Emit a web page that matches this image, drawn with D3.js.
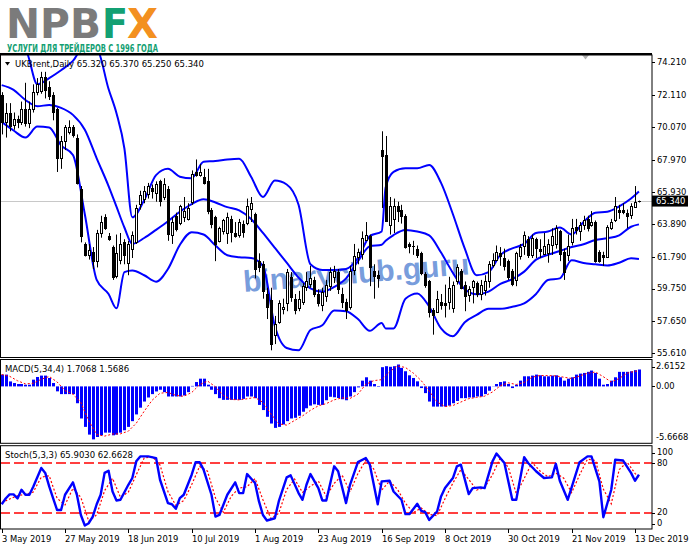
<!DOCTYPE html>
<html>
<head>
<meta charset="utf-8">
<script src="https://cdnjs.cloudflare.com/ajax/libs/d3/7.8.5/d3.min.js"></script>
<style>
  body { margin: 0; background: #fff; }
  svg { display: block; }
  text { font-family: "DejaVu Sans", sans-serif; }
</style>
</head>
<body>
<div id="graphic"></div>
<script>
const width = 691;
const height = 549;

// UKBrent daily candles, 3 May 2019 .. 16 Dec 2019 (bar index 0..161)
const opens = [72.1,70.4,71.0,70.2,70.6,70.4,71.2,70.3,71.2,72.3,
  72.4,73.3,72.6,72.1,71.2,68.1,69.2,69.8,70.1,69.4,
  66.1,62.6,61.9,62.1,61.5,63.3,64.3,63.1,62.4,60.5,
  61.6,62.7,61.4,62.3,62.7,65.1,65.5,65.8,66.2,65.8,
  66.6,65.6,66.1,63.2,64.4,63.9,64.3,64.2,65.3,67.2,
  67.0,66.9,66.6,64.8,64.3,62.8,63.4,63.3,64.2,63.3,
  63.2,63.9,63.9,64.8,64.5,61.5,61.3,59.4,59.0,56.8,
  57.6,58.5,58.8,60.5,59.1,58.5,58.9,59.8,60.0,60.3,
  59.4,58.7,59.3,59.9,60.5,60.8,59.4,58.9,58.6,60.9,
  61.8,62.0,62.9,63.1,60.9,60.6,68.6,68.3,63.8,64.2,
  65.0,64.8,64.4,62.6,62.5,62.3,62.0,60.7,60.2,58.4,
  58.3,58.9,58.8,58.9,58.5,60.2,60.9,60.0,59.3,59.8,
  60.1,59.4,59.6,60.2,61.3,61.6,62.0,61.7,61.5,60.9,
  60.3,61.8,62.5,62.9,61.9,62.9,62.3,62.0,62.0,62.5,
  62.6,63.4,62.1,61.9,62.7,63.7,63.4,63.8,64.2,63.8,
  64.0,62.1,61.9,61.8,63.6,64.1,64.8,64.8,64.6,64.4,
  65.0,65.32];
const highs = [72.3,71.6,71.6,71.0,70.8,71.7,72.9,71.7,72.8,73.2,
  73.6,73.6,73.0,72.3,71.3,69.5,70.2,70.5,70.2,69.6,
  66.3,62.7,62.6,62.4,63.5,64.4,64.5,63.3,62.5,63.2,
  63.3,62.9,62.8,63.4,65.1,66.0,66.3,66.5,66.4,66.6,
  66.7,66.8,66.3,64.3,64.6,65.1,65.6,65.2,67.3,68.0,
  67.7,67.4,67.4,64.9,64.4,63.7,64.2,64.6,64.4,64.0,
  64.2,64.1,65.5,65.6,64.6,62.0,61.5,59.8,59.8,58.0,
  59.0,59.1,61.0,60.8,59.4,59.6,60.1,60.8,61.2,60.5,
  59.7,59.8,60.3,61.1,61.2,61.0,59.8,59.1,61.2,62.6,
  62.3,63.4,64.0,63.2,61.3,60.9,69.8,69.5,65.6,65.5,
  65.3,65.1,64.5,62.7,62.8,62.5,62.1,60.8,60.3,58.5,
  59.6,59.4,60.0,60.5,60.2,61.3,61.0,60.2,59.9,60.3,
  60.2,60.3,60.6,61.5,62.0,62.5,62.4,62.3,61.6,61.0,
  62.1,62.6,63.4,63.1,63.2,63.0,62.9,63.3,62.9,63.6,
  63.8,63.5,62.3,63.2,64.2,64.2,64.0,64.4,64.4,64.7,
  64.1,62.2,62.1,63.8,64.2,65.6,65.1,65.2,64.8,65.2,
  66.3,65.37];
const lows = [69.6,69.4,69.8,69.9,70.0,70.2,70.1,70.0,71.0,72.1,
  72.2,71.9,71.8,70.5,67.2,67.4,68.6,69.6,69.4,66.4,
  62.7,61.8,61.6,61.0,61.1,63.0,63.5,62.8,60.3,60.4,
  61.3,61.3,60.6,61.7,62.6,64.8,65.2,65.5,65.5,65.3,
  65.0,65.4,62.8,62.6,63.4,63.8,64.0,64.1,65.1,66.9,
  66.9,66.4,64.5,63.6,61.5,62.7,63.2,62.6,62.7,63.0,
  63.0,63.0,63.8,64.0,60.4,60.8,59.1,57.8,55.8,56.2,
  57.5,58.1,58.3,58.9,58.1,58.3,58.7,59.6,59.8,59.2,
  58.6,58.3,58.9,59.6,60.1,59.4,58.5,57.8,58.4,60.6,
  61.3,61.6,62.8,59.9,59.1,59.8,64.9,64.0,63.2,63.3,
  64.0,63.9,62.3,62.0,61.9,61.7,60.6,59.8,57.9,56.8,
  58.2,58.4,57.9,58.4,58.2,60.0,59.7,58.3,58.9,58.8,
  59.2,59.0,59.3,59.8,61.1,61.5,61.2,60.9,60.3,59.9,
  59.9,61.6,61.9,61.7,61.7,61.7,61.7,61.9,61.4,61.9,
  62.3,61.5,60.3,61.5,62.5,63.2,62.8,63.5,63.4,63.7,
  61.4,61.4,61.2,61.7,63.5,64.0,64.2,64.5,63.6,64.2,
  64.9,65.25];
const closes = [70.4,71.0,70.2,70.6,70.4,71.2,70.3,71.2,72.3,72.8,
  73.3,72.5,72.0,71.0,68.1,69.2,70.1,70.1,69.6,66.5,
  63.1,61.9,62.2,61.5,63.3,64.0,63.6,62.9,60.5,62.0,
  62.6,61.9,62.6,63.2,64.9,65.7,66.0,66.3,66.0,66.4,
  65.3,66.4,63.2,64.0,63.6,65.0,64.7,64.9,67.1,67.0,
  67.2,66.5,64.7,63.9,62.6,63.6,64.1,64.3,63.4,63.1,
  64.0,63.4,65.0,65.2,61.0,61.1,59.6,58.6,56.2,57.5,
  58.8,58.6,60.8,59.2,58.4,59.1,59.9,60.2,60.4,59.4,
  58.8,59.5,60.0,60.8,60.9,59.7,58.9,58.4,60.9,61.8,
  62.1,63.0,63.2,61.1,60.6,60.4,68.2,64.1,65.0,65.0,
  64.7,64.4,62.4,62.5,62.5,61.9,60.7,60.0,58.2,58.1,
  59.1,58.7,58.7,59.8,60.0,61.1,59.8,59.3,59.7,60.2,
  59.4,60.0,60.2,61.3,61.6,62.1,61.8,61.2,60.5,60.1,
  62.0,62.4,63.2,61.9,63.0,62.3,62.2,62.5,62.6,63.1,
  63.6,61.9,60.8,62.5,63.6,63.5,63.8,64.1,63.6,64.0,
  61.5,61.5,61.8,63.7,64.0,65.0,64.7,64.7,64.4,65.0,
  65.3,65.34];

// Bollinger bands at these bars
const bbIndex = [0,3,6,9,12,15,18,21,24,27,29,31,33,36,39,42,45,48,51,54,57,60,63,66,69,72,75,78,81,84,87,90,93,96,97,99,
  102,105,108,111,114,117,120,123,126,129,132,135,138,141,144,147,150,153,156,159,161];
const bbUpper = [75.1,75.2,75.0,72.8,73.2,73.7,74.3,75.3,75.1,72.5,70.95,68.7,64.3,65.4,67.0,67.4,66.9,66.8,67.86,67.9,68.0,68.05,
  66.9,65.6,66.65,66.4,65.1,61.3,60.94,60.94,61.0,61.7,63.1,63.4,66.2,67.2,
  67.43,67.43,67.65,66.5,64.5,62.3,60.6,60.8,61.9,62.32,62.6,63.3,63.39,63.65,63.2,64.0,64.6,64.66,65.0,65.5,65.95];
const bbMiddle = [72.75,72.45,71.8,71.4,71.48,71.3,70.85,69.9,68.07,66.3,64.98,63.65,62.6,62.98,63.5,64.05,64.66,65.15,65.45,65.25,64.95,64.75,
  64.2,63.3,62.35,61.4,60.45,59.76,59.55,59.85,60.4,61.5,62.45,62.55,62.8,63.17,
  63.49,63.39,63.15,62.05,60.75,59.7,59.38,59.55,60.05,60.35,60.83,61.6,61.9,62.15,62.4,62.58,62.85,62.96,63.15,63.7,63.85];
const bbLower = [70.4,69.85,69.4,70.1,70.05,68.9,68.29,64.5,60.3,59.4,58.49,60.8,60.9,60.6,60.19,61.0,62.53,63.35,63.2,62.5,61.88,61.75,
  61.7,61.2,57.35,55.95,55.8,57.1,57.4,58.35,58.3,57.8,57.05,57.55,57.2,57.2,
  59.1,59.44,58.6,57.2,56.7,57.6,58.06,58.45,58.45,58.58,58.8,59.4,60.3,60.4,61.55,61.38,61.3,61.22,61.4,61.68,61.64];

// MACD(5,34,4) histogram, one value per bar
const macdHist = [1.19,1.19,0.5,0.34,0.24,0.24,0.17,0.17,0.68,0.95,
  1.09,1.09,0.85,0.34,-0.5,-0.78,-0.78,-0.78,-0.78,-1.7,
  -3.24,-4.09,-4.87,-5.35,-5.11,-4.94,-4.67,-4.67,-4.94,-4.87,
  -4.67,-4.43,-4.09,-3.51,-2.83,-2.15,-1.53,-1.12,-0.78,-0.51,
  -0.34,-0.58,-1.02,-1.02,-1.02,-1.02,-0.92,-0.58,0.05,0.44,
  0.78,0.78,0.17,-0.34,-0.78,-1.19,-1.36,-1.36,-1.36,-1.36,
  -1.36,-1.26,-1.02,-1.02,-1.19,-1.87,-2.39,-3.07,-3.75,-4.19,
  -4.09,-3.85,-3.51,-3.24,-3.17,-2.96,-2.56,-2.21,-1.94,-1.81,
  -1.87,-1.87,-1.4,-1.05,-1.1,-1.17,-1.3,-1.4,-1.02,-0.58,
  -0.1,0.58,0.92,0.58,0.24,-0.05,1.94,2.04,1.98,2.04,
  2.21,1.87,1.53,1.12,0.85,0.51,-0.17,-0.68,-1.53,-2.04,
  -2.04,-2.04,-2.04,-1.94,-1.7,-1.47,-1.19,-1.19,-1.12,-1.12,
  -1.02,-1.02,-0.78,-0.44,0.02,0.24,0.44,0.51,0.24,-0.17,
  0.17,0.58,1.02,1.02,1.09,1.19,1.12,1.02,1.02,1.09,
  1.12,0.92,0.58,0.78,0.92,1.19,1.29,1.36,1.47,1.6,
  1.36,0.78,0.17,0.24,0.58,0.92,1.47,1.47,1.47,1.53,
  1.64,1.7068];
const macdSigIndex = [0,2,4,6,8,10,12,14,16,18,20,22,24,26,28,30,32,34,36,38,40,42,44,46,48,50,52,54,56,58,60,62,64,66,68,70,72,74,76,78,
  80,82,84,86,88,90,92,94,96,98,100,102,104,106,108,110,112,114,116,118,120,122,124,126,128,130,132,134,136,138,140,142,144,146,148,150,
  152,154,156,158,160,161];
const macdSignal = [1.2,1.02,0.57,0.25,0.32,0.72,1.0,0.45,-0.43,-0.78,-1.63,-3.48,-4.86,-5.02,-4.81,-4.79,-4.52,-3.72,-2.51,-1.4,
  -0.69,-0.61,-0.91,-1.0,-0.62,0.17,0.54,-0.04,-0.92,-1.32,-1.36,-1.25,-1.12,-1.62,-2.77,-3.78,-3.91,-3.44,-2.98,-2.42,
  -1.96,-1.74,-1.36,-1.16,-1.22,-0.78,0.21,0.58,0.68,1.48,2.07,1.91,1.34,0.58,-0.47,-1.57,-2.04,-1.93,-1.58,-1.24,
  -1.11,-0.99,-0.56,0.07,0.36,0.19,0.4,0.93,1.1,1.09,1.06,0.93,0.8,1.05,1.33,1.45,0.98,0.44,0.8,1.33,1.53,1.5686];

// Stochastic(5,3,3)
const stochIndex = [0,1,2,3,4,5,6,7,8,10,11,12,13,14,15,16,18,19,20,21,22,23,24,25,26,27,28,29,30,32,33,34,35,37,39,40,
  42,43,44,45,46,48,49,50,51,53,54,55,57,59,60,61,62,64,65,66,67,69,70,72,73,75,76,77,78,80,81,82,84,85,87,88,
  90,92,93,95,96,98,99,101,102,103,105,106,107,108,110,111,112,114,115,116,118,119,121,122,124,125,127,129,130,
  132,133,135,137,139,140,141,143,145,146,148,149,151,152,154,155,157,159,160,161];
const stochMain = [30,37,42,42,37,47.6,41.5,41.5,51.6,74,68,51.6,37,23,23,41.5,56.5,41.5,17,4.2,7,15,30,41.5,68,70.7,45.5,34.6,35.4,53.6,61.8,82,88,88,86,59.7,
  31.4,30,24.5,37.4,41.5,65.8,81,81,72,41.5,15,17,41.5,56.5,43.5,43.5,66.6,55.7,33.4,17,10.3,13,33.4,62.6,65,43.5,35.4,53.6,66.6,49.6,34.6,34.6,76,70,31.4,53.6,
  81,86,78,30,57.7,58.5,45.5,35.4,18,18,30.5,22,20.4,11,21.2,39.5,49.6,61.8,76,78,42.3,49.6,50.4,49.6,82,91.4,80,35.4,35.4,
  87,80,70,61.8,62.6,79,58.5,35.4,65.8,81,88,88,57.7,14.3,47.6,84,83,68,58.5,65.903];
const stochSigIndex = macdSigIndex;
const stochSignal = [32,36.3,40.3,42,44.9,62.9,64.5,37.2,29.2,49.3,38.3,9.4,17.3,46.5,61.4,38.5,44.7,65.8,86,87.7,
  77.6,45.4,28.6,34.5,53.8,75.9,70,37.8,20.3,39.8,49.7,51.2,61.1,35.4,12.8,19.1,48,60.5,44.3,51.9,
  58.1,39.6,55.2,65.3,45,67.2,83.3,72.7,47.2,58.1,48,31.1,20,25.5,17.8,16.1,36.8,55.8,71.9,60.1,
  47.3,50,65.9,86.5,74.7,42.9,61.1,80.7,70.3,63.3,67.9,61.5,44.1,65.6,84.7,83,48.3,30.6,71.9,81,67.5,62.6628];

// axis labels
const priceTicks = [74.21, 72.11, 70.07, 67.97, 65.93, 63.89, 61.79, 59.75, 57.65, 55.61];
const macdTicks = [2.6152, 0, -5.6668];
const stochTicks = [100, 80, 20, 0];
const stochLevels = [80, 20];
const dateLabels = ['3 May 2019', '27 May 2019', '18 Jun 2019', '10 Jul 2019', '1 Aug 2019', '23 Aug 2019',
  '16 Sep 2019', '8 Oct 2019', '30 Oct 2019', '21 Nov 2019', '13 Dec 2019'];
const dateIndex = [0, 16, 32, 48, 64, 80, 96, 112, 128, 144, 160];

const svg = d3.select('#graphic')
  .append('svg')
  .attr('width', width)
  .attr('height', height);

const right = 652;
const mainTop = 55, mainBottom = 357.5;
const macdTop = 359.5, macdBottom = 443.3;
const stochTop = 445.7, stochBottom = 529;

const x = d3.scaleLinear().domain([0, 160]).range([1.7, 635]);
const yPrice = d3.scaleLinear().domain([55.61, 74.21]).range([353.3, 62.3]);
const yMacd = d3.scaleLinear().domain([-5.6668, 2.6152]).range([442.5, 360.5]);
const yStoch = d3.scaleLinear().domain([0, 100]).range([stochBottom, 446.5]);
const px = i => Math.round(x(i));

// logo
const logo = svg.append('g');
logo.append('text').attr('x', 6).attr('y', 38)
  .attr('font-size', 40).attr('font-weight', 'bold').attr('fill', '#7b7b7b')
  .attr('textLength', 95).attr('lengthAdjust', 'spacingAndGlyphs').text('NPB');
logo.append('text').attr('x', 102).attr('y', 38)
  .attr('font-size', 40).attr('font-weight', 'bold').attr('fill', '#13a073')
  .attr('textLength', 26).attr('lengthAdjust', 'spacingAndGlyphs').text('F');
logo.append('text').attr('x', 127).attr('y', 38)
  .attr('font-size', 40).attr('font-weight', 'bold').attr('fill', '#f39020')
  .attr('textLength', 31).attr('lengthAdjust', 'spacingAndGlyphs').text('X');
logo.append('text').attr('x', 7).attr('y', 51.5)
  .attr('font-size', 10).attr('font-weight', 'bold').attr('fill', '#13a073')
  .style('font-family', '"Liberation Sans Narrow", "DejaVu Sans Condensed", sans-serif')
  .attr('textLength', 151).attr('lengthAdjust', 'spacingAndGlyphs')
  .text('УСЛУГИ ДЛЯ ТРЕЙДЕРОВ С 1996 ГОДА');

// clip paths
const defs = svg.append('defs');
[['clipMain', mainTop, mainBottom], ['clipMacd', macdTop, macdBottom], ['clipStoch', stochTop, stochBottom]]
  .forEach(c => defs.append('clipPath').attr('id', c[0])
    .append('rect').attr('x', 1).attr('y', c[1]).attr('width', right - 1).attr('height', c[2] - c[1]));

// watermark
svg.append('text')
  .attr('transform', 'translate(244,292) rotate(-4.5)')
  .style('font-family', '"Liberation Sans", Arial, sans-serif')
  .attr('font-size', 30).attr('font-weight', 'bold')
  .attr('fill', '#5f8bd6').attr('fill-opacity', 0.85)
  .text('binaryclub.guru');

// main panel
const mainG = svg.append('g').attr('clip-path', 'url(#clipMain)');

mainG.append('line')
  .attr('x1', 0).attr('x2', right)
  .attr('y1', Math.round(yPrice(closes[closes.length - 1])) + 0.5)
  .attr('y2', Math.round(yPrice(closes[closes.length - 1])) + 0.5)
  .attr('stroke', '#c8c8c8');

const bandLine = arr => d3.line()
  .x((d, k) => x(bbIndex[k]))
  .y(d => yPrice(d))
  .curve(d3.curveMonotoneX)(arr);

[bbUpper, bbMiddle, bbLower].forEach(arr => {
  mainG.append('path')
    .attr('d', bandLine(arr))
    .attr('fill', 'none')
    .attr('stroke', '#0000ff')
    .attr('stroke-width', 2);
});

const candle = mainG.selectAll('g.candle')
  .data(d3.range(opens.length))
  .enter()
  .append('g')
  .attr('class', 'candle');

candle.append('line')
  .attr('x1', i => px(i) + 0.5).attr('x2', i => px(i) + 0.5)
  .attr('y1', i => yPrice(highs[i])).attr('y2', i => yPrice(lows[i]))
  .attr('stroke', '#000');

candle.append('rect')
  .attr('x', i => px(i) - 0.5)
  .attr('y', i => Math.round(yPrice(Math.max(opens[i], closes[i]))) + 0.5)
  .attr('width', 2)
  .attr('height', i => Math.max(0.01, Math.round(Math.abs(yPrice(opens[i]) - yPrice(closes[i])))))
  .attr('fill', i => closes[i] >= opens[i] ? '#fff' : '#000')
  .attr('stroke', '#000');

// price title
svg.append('path').attr('d', 'M5,62 L10,62 L7.5,65.5 Z').attr('fill', '#000');
svg.append('text').attr('x', 15).attr('y', 66.5).attr('font-size', 8.5)
  .text('UKBrent,Daily  65.320 65.370 65.250 65.340');

// shift marker
svg.append('path').attr('d', 'M582,55 L589,55 L585.5,59.5 Z').attr('fill', '#b0b0b0');

// MACD panel
const macdG = svg.append('g').attr('clip-path', 'url(#clipMacd)');

macdG.selectAll('rect')
  .data(macdHist)
  .enter()
  .append('rect')
  .attr('x', (d, i) => px(i) - 1)
  .attr('width', 3)
  .attr('y', d => Math.min(yMacd(d), yMacd(0)))
  .attr('height', d => Math.abs(yMacd(d) - yMacd(0)))
  .attr('fill', '#0000ff');

macdG.append('path')
  .attr('d', d3.line().x((d, k) => x(macdSigIndex[k])).y(d => yMacd(d))(macdSignal))
  .attr('fill', 'none')
  .attr('stroke', '#ff0000')
  .attr('stroke-dasharray', '2,2');

svg.append('text').attr('x', 5).attr('y', 372).attr('font-size', 8.5)
  .text('MACD(5,34,4) 1.7068 1.5686');

// Stochastic panel
const stochG = svg.append('g').attr('clip-path', 'url(#clipStoch)');

stochG.selectAll('line.level')
  .data(stochLevels)
  .enter()
  .append('line')
  .attr('class', 'level')
  .attr('x1', 0).attr('x2', right)
  .attr('y1', d => Math.round(yStoch(d))).attr('y2', d => Math.round(yStoch(d)))
  .attr('stroke', '#ff0000')
  .attr('stroke-width', 1.4)
  .attr('stroke-dasharray', '10,4');

stochG.append('path')
  .attr('d', d3.line().x((d, k) => x(stochSigIndex[k])).y(d => yStoch(d))(stochSignal))
  .attr('fill', 'none')
  .attr('stroke', '#ff0000')
  .attr('stroke-width', 1.2)
  .attr('stroke-dasharray', '2,2');

stochG.append('path')
  .attr('d', d3.line().x((d, k) => x(stochIndex[k])).y(d => yStoch(d))(stochMain))
  .attr('fill', 'none')
  .attr('stroke', '#0000ff')
  .attr('stroke-width', 2.4)
  .attr('stroke-linejoin', 'round');

svg.append('text').attr('x', 5).attr('y', 457.5).attr('font-size', 8.5)
  .text('Stoch(5,3,3) 65.9030 62.6628');

// frames
svg.append('line').attr('x1', 0).attr('x2', right).attr('y1', 54).attr('y2', 54)
  .attr('stroke', '#000').attr('stroke-width', 2);
[[mainTop, mainBottom], [macdTop, macdBottom], [stochTop, stochBottom]].forEach(p => {
  svg.append('rect')
    .attr('x', 0.5).attr('y', p[0])
    .attr('width', right - 0.5).attr('height', p[1] - p[0])
    .attr('fill', 'none').attr('stroke', '#000');
});

// right axes
const axisG = svg.append('g').attr('font-size', 8.4);

function edgeShift(v, domain) {
  if (v === d3.max(domain)) return 6;
  if (v === d3.min(domain)) return -5.5;
  return 0;
}

axisG.selectAll('line.pt')
  .data(priceTicks).enter().append('line').attr('class', 'pt')
  .attr('x1', right).attr('x2', right + 3)
  .attr('y1', d => Math.round(yPrice(d)) + 0.5).attr('y2', d => Math.round(yPrice(d)) + 0.5)
  .attr('stroke', '#000');
axisG.selectAll('text.pt')
  .data(priceTicks).enter().append('text').attr('class', 'pt')
  .attr('x', right + 5).attr('y', d => yPrice(d)).attr('dy', '0.35em')
  .text(d => d3.format('.3f')(d));

axisG.selectAll('text.mt')
  .data(macdTicks).enter().append('text').attr('class', 'mt')
  .attr('x', right + 4).attr('y', d => yMacd(d) + edgeShift(d, yMacd.domain())).attr('dy', '0.35em')
  .text(d => d === 0 ? '0.00' : d3.format('.4f')(d).replace('\u2212', '-'));
axisG.selectAll('line.mt')
  .data(macdTicks.filter(d => d >= 0)).enter().append('line').attr('class', 'mt')
  .attr('x1', right).attr('x2', right + 3)
  .attr('y1', d => Math.round(yMacd(d) + edgeShift(d, yMacd.domain())) + 0.5)
  .attr('y2', d => Math.round(yMacd(d) + edgeShift(d, yMacd.domain())) + 0.5)
  .attr('stroke', '#000');

axisG.selectAll('text.st')
  .data(stochTicks).enter().append('text').attr('class', 'st')
  .attr('x', right + 5).attr('y', d => yStoch(d) + edgeShift(d, yStoch.domain())).attr('dy', '0.35em')
  .text(d => d);
axisG.selectAll('line.st')
  .data(stochTicks).enter().append('line').attr('class', 'st')
  .attr('x1', right).attr('x2', right + 3)
  .attr('y1', d => Math.round(yStoch(d) + edgeShift(d, yStoch.domain())) + 0.5)
  .attr('y2', d => Math.round(yStoch(d) + edgeShift(d, yStoch.domain())) + 0.5)
  .attr('stroke', '#000');

// current price box
const last = closes[closes.length - 1];
axisG.append('rect')
  .attr('x', right).attr('y', yPrice(last) - 5.5)
  .attr('width', 36).attr('height', 11).attr('fill', '#000');
axisG.append('text')
  .attr('x', right + 4).attr('y', yPrice(last)).attr('dy', '0.35em')
  .attr('fill', '#fff').text(d3.format('.3f')(last));

// date axis
const dateG = svg.append('g').attr('font-size', 8.4);
dateG.selectAll('line')
  .data(dateIndex).enter().append('line')
  .attr('x1', d => px(d) + 0.5).attr('x2', d => px(d) + 0.5)
  .attr('y1', stochBottom).attr('y2', stochBottom + 4)
  .attr('stroke', '#000');
dateG.selectAll('text')
  .data(dateLabels).enter().append('text')
  .attr('x', (d, k) => px(dateIndex[k]))
  .attr('y', 542)
  .text(d => d);
</script>
</body>
</html>
